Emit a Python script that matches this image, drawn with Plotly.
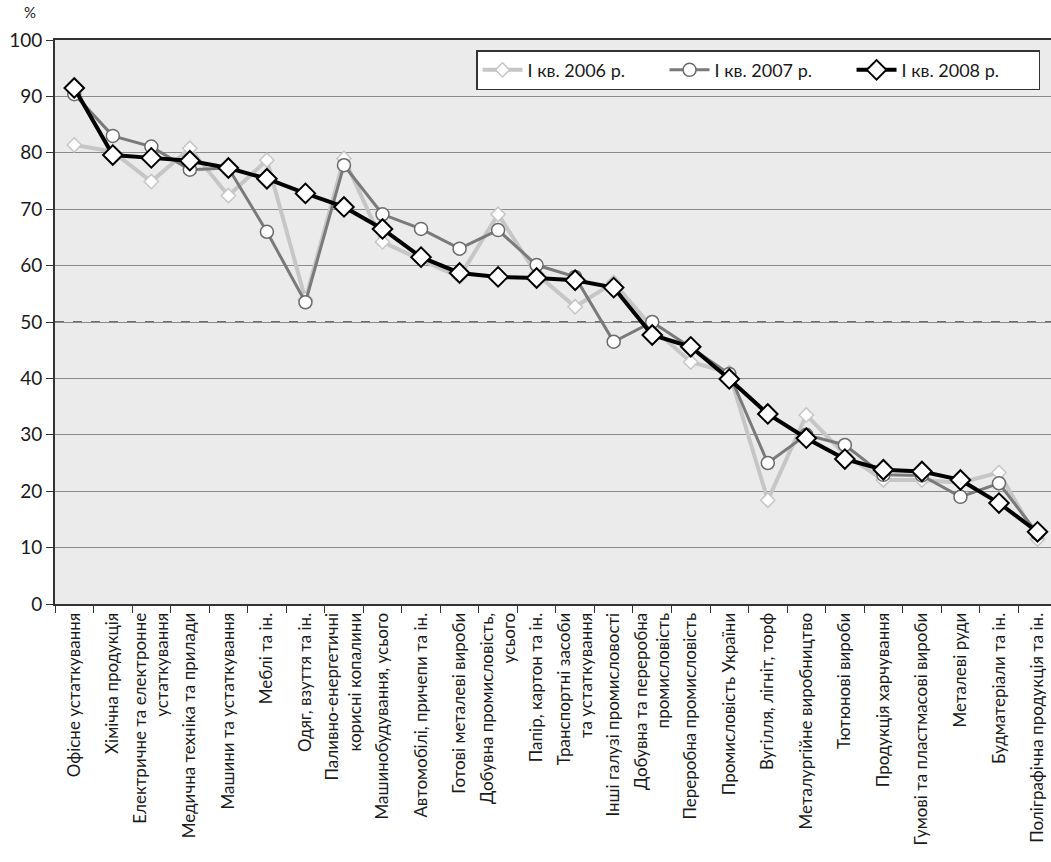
import plotly.graph_objects as go

categories = [
    "Офісне устаткування",
    "Хімічна продукція",
    "Електричне та електронне<br>устаткування",
    "Медична техніка та прилади",
    "Машини та устаткування",
    "Меблі та ін.",
    "Одяг, взуття та ін.",
    "Паливно-енергетичні<br>корисні копалини",
    "Машинобудування, усього",
    "Автомобілі, причепи та ін.",
    "Готові металеві вироби",
    "Добувна промисловість,<br>усього",
    "Папір, картон та ін.",
    "Транспортні засоби<br>та устаткування",
    "Інші галузі промисловості",
    "Добувна та переробна<br>промисловість",
    "Переробна промисловість",
    "Промисловість України",
    "Вугілля, лігніт, торф",
    "Металургійне виробництво",
    "Тютюнові вироби",
    "Продукція харчування",
    "Гумові та пластмасові вироби",
    "Металеві руди",
    "Будматеріали та ін.",
    "Поліграфічна продукція та ін.",
]

q1_2006 = [81.4, 80.2, 74.9, 80.8, 72.4, 78.7, 54.0, 79.0, 64.2, 61.0, 58.0, 69.1, 58.5,
           52.7, 57.0, 49.0, 42.9, 41.0, 18.4, 33.5, 26.5, 22.0, 22.0, 21.5, 23.3, 11.5]
q1_2007 = [90.4, 83.0, 81.1, 77.0, 77.3, 66.0, 53.5, 77.8, 69.1, 66.5, 63.0, 66.3, 60.1,
           58.0, 46.5, 50.0, 45.5, 40.8, 25.0, 30.0, 28.2, 22.9, 22.8, 19.0, 21.4, 12.5]
q1_2008 = [91.5, 79.6, 79.1, 78.6, 77.3, 75.4, 72.8, 70.4, 66.5, 61.5, 58.7, 58.0, 57.8,
           57.4, 56.1, 47.7, 45.6, 39.9, 33.7, 29.4, 25.7, 23.8, 23.5, 22.0, 17.9, 12.8]

series_names = ["I кв. 2006 р.", "I кв. 2007 р.", "I кв. 2008 р."]
y_ticks = [0, 10, 20, 30, 40, 50, 60, 70, 80, 90, 100]
threshold = 50
y_unit = "%"

FONT = "Lato, 'Open Sans', sans-serif"
TXT = "#1a1a1a"

fig = go.Figure()

fig.add_trace(go.Scatter(
    x=categories, y=q1_2006, name=series_names[0], mode="lines+markers",
    line=dict(color="#c6c6c6", width=4),
    marker=dict(symbol="diamond", size=11, color="white",
                line=dict(color="#c6c6c6", width=1.5)),
))
fig.add_trace(go.Scatter(
    x=categories, y=q1_2007, name=series_names[1], mode="lines+markers",
    line=dict(color="#7a7a7a", width=3),
    marker=dict(symbol="circle", size=13, color="white",
                line=dict(color="#6a6a6a", width=1.5)),
))
fig.add_trace(go.Scatter(
    x=categories, y=q1_2008, name=series_names[2], mode="lines+markers",
    line=dict(color="#000000", width=4),
    marker=dict(symbol="diamond", size=15, color="white",
                line=dict(color="#000000", width=2)),
))

fig.add_shape(type="line", xref="paper", x0=0, x1=1, yref="y", y0=threshold, y1=threshold,
              line=dict(color="#444444", width=1.5, dash="dash"), layer="below")

fig.add_annotation(text=y_unit, xref="paper", yref="paper", x=-0.025, y=1.03,
                   xanchor="center", yanchor="bottom", showarrow=False,
                   font=dict(family=FONT, size=15, color=TXT))

fig.update_layout(
    width=1051, height=862,
    margin=dict(l=55, r=0, t=40, b=258, autoexpand=False),
    paper_bgcolor="white",
    plot_bgcolor="#ebebeb",
    font=dict(family=FONT, size=14, color=TXT),
    showlegend=True,
    legend=dict(
        orientation="h", x=0.989, xanchor="right", y=0.982, yanchor="top",
        bgcolor="white", bordercolor="#333333", borderwidth=1.5,
        font=dict(family=FONT, size=18, color=TXT),
        entrywidth=132, itemwidth=40,
    ),
    xaxis=dict(
        type="category", range=[-0.5, 25.35], automargin=False,
        tickangle=-90, tickson="boundaries",
        ticks="outside", ticklen=7, tickcolor="#333333", tickwidth=1.2,
        showline=True, linecolor="#333333", linewidth=2, mirror=True,
        showgrid=False, tickfont=dict(family=FONT, size=17, color=TXT),
    ),
    yaxis=dict(
        range=[0, 100], tickvals=y_ticks, automargin=False,
        ticks="outside", ticklen=7, tickcolor="#333333", tickwidth=1.2,
        showline=True, linecolor="#333333", linewidth=2,
        showgrid=True, gridcolor="#8a8a8a", gridwidth=1.2,
        zeroline=False, tickfont=dict(family=FONT, size=19, color=TXT),
    ),
)

fig.write_html(
    "out.html",
    config={"displayModeBar": False},
    post_script="document.body.style.margin='0';document.body.style.overflow='hidden';",
)
